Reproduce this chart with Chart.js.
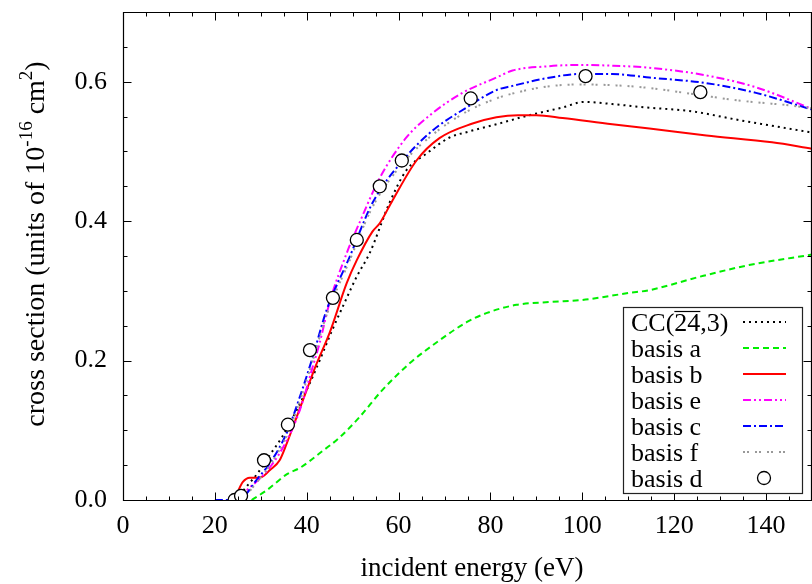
<!DOCTYPE html>
<html>
<head>
<meta charset="utf-8">
<script src="https://cdn.jsdelivr.net/npm/chart.js@4/dist/chart.umd.min.js"></script>
<style>
html,body{margin:0;padding:0;background:#fff;}
#wrap{width:812px;height:584px;position:relative;}
</style>
</head>
<body>
<div id="wrap"><canvas id="c" width="812" height="584"></canvas></div>
<script>
const FONT = '"Liberation Serif", "Times New Roman", serif';

// x tick labels / y tick labels
const xTickValues = [0, 20, 40, 60, 80, 100, 120, 140];
const yTickValues = [0.0, 0.2, 0.4, 0.6];

const seriesNames = ['CC(24,3)', 'basis a', 'basis b', 'basis e', 'basis c', 'basis f', 'basis d'];

// CC(24,3)
const energyCC = [24.6, 27, 29.5, 32, 34.6, 37.5, 40.7, 42.8, 45.5, 48.3, 51, 53.7, 58, 61.7, 66.1, 71.1, 75, 81.3, 88.5, 95.7, 100.4, 106.5, 113.9, 123.3, 134.1, 150];
const sigmaCC  = [0.0, 0.02, 0.04, 0.065, 0.09, 0.125, 0.168, 0.2, 0.243, 0.284, 0.322, 0.354, 0.426, 0.473, 0.497, 0.520, 0.528, 0.539, 0.552, 0.563, 0.571, 0.568, 0.563, 0.558, 0.545, 0.527];

// basis a
const energyA = [28, 31.3, 35.7, 38.5, 42.8, 47.2, 51.5, 56.5, 62.4, 68.9, 74.8, 79.1, 85.7, 92.8, 100, 110.2, 114.6, 125.4, 136.3, 150];
const sigmaA  = [0.0, 0.014, 0.037, 0.046, 0.067, 0.09, 0.119, 0.158, 0.196, 0.229, 0.255, 0.268, 0.280, 0.284, 0.287, 0.297, 0.301, 0.320, 0.337, 0.352];

// basis b
const energyB = [24.6, 25.2, 26.1, 27.6, 29, 30.2, 32, 34.1, 35.7, 37.8, 40, 42, 45, 48.7, 50.9, 54.3, 55.9, 58.7, 63.9, 68.9, 76.1, 81.3, 86, 90, 95.7, 106.5, 114.6, 127, 141.3, 150];
const sigmaB  = [0.005, 0.015, 0.026, 0.032, 0.032, 0.033, 0.043, 0.057, 0.082, 0.119, 0.158, 0.193, 0.24, 0.311, 0.344, 0.385, 0.397, 0.43, 0.487, 0.519, 0.540, 0.549, 0.552, 0.552, 0.548, 0.539, 0.533, 0.523, 0.513, 0.504];

// basis e
const energyE = [25.8, 27, 28.7, 32, 35.7, 38.5, 41.3, 42.8, 45, 48.7, 51.5, 55.9, 61.7, 67.4, 73.9, 81.3, 84.8, 92.2, 99.3, 106.5, 114.6, 127, 137.8, 150];
const sigmaE  = [0.0, 0.014, 0.024, 0.047, 0.086, 0.129, 0.191, 0.225, 0.284, 0.354, 0.398, 0.462, 0.520, 0.555, 0.584, 0.606, 0.616, 0.622, 0.624, 0.623, 0.620, 0.609, 0.592, 0.561];

// basis c
const energyC = [20, 25.5, 27, 29.1, 32, 35.7, 38.5, 41.3, 44.3, 49.3, 54.3, 60.9, 67.4, 74.8, 81.3, 84.8, 92.2, 99.3, 106.5, 114.6, 127, 137.8, 150];
const sigmaC  = [0.0, 0.0, 0.01, 0.029, 0.053, 0.097, 0.148, 0.205, 0.272, 0.348, 0.426, 0.487, 0.530, 0.563, 0.588, 0.594, 0.605, 0.611, 0.611, 0.606, 0.598, 0.584, 0.560];

// basis f
const energyF = [26, 27, 29.1, 32, 35.7, 38.5, 41.3, 44.3, 49.3, 54.3, 60.9, 67.4, 74.8, 81.3, 84.8, 92.2, 99.3, 106.5, 114.6, 123.3, 134.1, 145.2, 150];
const sigmaF  = [0.0, 0.008, 0.025, 0.05, 0.093, 0.142, 0.2, 0.265, 0.343, 0.42, 0.483, 0.524, 0.557, 0.576, 0.583, 0.593, 0.596, 0.595, 0.591, 0.583, 0.573, 0.566, 0.562];

// basis d (points)
const energyD = [24.3, 25.7, 30.7, 35.9, 40.7, 45.7, 50.9, 55.9, 60.7, 75.7, 100.7, 125.7];
const sigmaD  = [0.0, 0.006, 0.057, 0.108, 0.215, 0.290, 0.373, 0.450, 0.487, 0.576, 0.608, 0.585];

const zip = (xs, ys) => xs.map((x, i) => ({x: x, y: ys[i]}));

function lineDS(label, xs, ys, color, dash, order) {
  return {
    label, data: zip(xs, ys), borderColor: color, backgroundColor: color,
    borderWidth: 2, borderDash: dash, pointRadius: 0, fill: false,
    cubicInterpolationMode: 'monotone', order: order, borderCapStyle: 'butt'
  };
}

const datasets = [
  lineDS(seriesNames[0], energyCC, sigmaCC, '#000000', [2, 4], 7),
  lineDS(seriesNames[1], energyA, sigmaA, '#00ee00', [6, 4], 6),
  lineDS(seriesNames[2], energyB, sigmaB, '#ff0000', [], 5),
  lineDS(seriesNames[3], energyE, sigmaE, '#ff00ff', [8, 3, 2, 3, 2, 3], 4),
  lineDS(seriesNames[4], energyC, sigmaC, '#0000ff', [8, 3, 2, 3], 3),
  lineDS(seriesNames[5], energyF, sigmaF, '#999999', [2, 2, 2, 6], 2),
  {
    label: seriesNames[6], data: zip(energyD, sigmaD), showLine: false,
    pointRadius: 6.5, pointStyle: 'circle', pointBorderWidth: 1.3,
    borderColor: '#000', backgroundColor: '#fff', pointBackgroundColor: '#fff', order: 1
  }
];

const zeroPad = s => { s.paddingTop = 0; s.paddingBottom = 0; s.paddingLeft = 0; s.paddingRight = 0; };

const framePlugin = {
  id: 'frame',
  afterDatasetsDraw(chart) {
    const {ctx, chartArea: a, scales: {x, y}} = chart;
    ctx.save();
    // frame
    ctx.strokeStyle = '#000';
    ctx.lineWidth = 1.2;
    const L = Math.round(a.left) + 0.5, R = Math.round(a.right) - 0.5;
    const T = Math.round(a.top) + 0.5, B = Math.round(a.bottom) + 0.5;
    ctx.beginPath();
    ctx.rect(L, T, R - L, B - T);
    ctx.stroke();
    // ticks (inward, mirrored)
    ctx.lineWidth = 1;
    ctx.beginPath();
    for (let v = 0; v <= 150 + 1e-9; v += 5) {
      const px = Math.round(x.getPixelForValue(v)) + 0.5;
      const len = (Math.abs(v % 20) < 1e-9) ? 8 : 4;
      ctx.moveTo(px, B); ctx.lineTo(px, B - len);
      ctx.moveTo(px, T); ctx.lineTo(px, T + len);
    }
    for (let k = 0; k <= 14; k++) {
      const v = k * 0.05;
      const py = Math.round(y.getPixelForValue(v)) + 0.5;
      const len = (k % 4 === 0) ? 8 : 4;
      ctx.moveTo(L, py); ctx.lineTo(L + len, py);
      ctx.moveTo(R, py); ctx.lineTo(R - len, py);
    }
    ctx.stroke();

    // axis titles
    ctx.fillStyle = '#000';
    ctx.font = '27px ' + FONT;
    ctx.textAlign = 'center';
    ctx.textBaseline = 'alphabetic';
    ctx.fillText('incident energy (eV)', 472, 576);

    // y title with superscripts
    const parts = [
      ['cross section (units of 10', false],
      ['-16', true],
      [' cm', false],
      ['2', true],
      [')', false]
    ];
    const fN = '28px ' + FONT, fS = '19px ' + FONT;
    let total = 0;
    parts.forEach(p => { ctx.font = p[1] ? fS : fN; total += ctx.measureText(p[0]).width; });
    ctx.translate(44, 244);
    ctx.rotate(-Math.PI / 2);
    ctx.textAlign = 'left';
    let cx = -total / 2;
    parts.forEach(p => {
      ctx.font = p[1] ? fS : fN;
      ctx.fillText(p[0], cx, p[1] ? -12 : 0);
      cx += ctx.measureText(p[0]).width;
    });
    ctx.restore();

    // legend
    ctx.save();
    const bx = 623.5, by = 307.5, bw = 179, bh = 186;
    ctx.fillStyle = '#fff';
    ctx.fillRect(bx, by, bw, bh);
    ctx.strokeStyle = '#222';
    ctx.lineWidth = 1.2;
    ctx.strokeRect(bx, by, bw, bh);
    ctx.font = '26px ' + FONT;
    ctx.fillStyle = '#000';
    ctx.textAlign = 'left';
    ctx.textBaseline = 'alphabetic';
    const tx = 631, base0 = 331, step = 26;
    chart.data.datasets.forEach((ds, i) => {
      const base = base0 + i * step;
      if (i === 0) {
        const w1 = ctx.measureText('CC(').width;
        const w2 = ctx.measureText('24').width;
        ctx.fillText('CC(24,3)', tx, base);
        ctx.lineWidth = 1.2;
        ctx.strokeStyle = '#000';
        ctx.beginPath();
        ctx.moveTo(tx + w1, base - 19.5);
        ctx.lineTo(tx + w1 + w2, base - 19.5);
        ctx.stroke();
      } else {
        ctx.fillText(ds.label, tx, base);
      }
      const sy = base - 9;
      if (ds.showLine === false) {
        ctx.beginPath();
        ctx.lineWidth = 1.3;
        ctx.strokeStyle = '#000';
        ctx.arc(764, sy, 6.5, 0, Math.PI * 2);
        ctx.stroke();
      } else {
        ctx.beginPath();
        ctx.setLineDash(ds.borderDash || []);
        ctx.lineWidth = ds.borderWidth;
        ctx.strokeStyle = ds.borderColor;
        ctx.moveTo(743, sy);
        ctx.lineTo(786, sy);
        ctx.stroke();
        ctx.setLineDash([]);
      }
    });
    ctx.restore();
  }
};

new Chart(document.getElementById('c'), {
  type: 'line',
  data: {datasets},
  options: {
    responsive: false,
    animation: false,
    devicePixelRatio: 1,
    layout: {autoPadding: false, padding: {top: 12, right: -1, left: 0, bottom: 0}},
    plugins: {legend: {display: false}, tooltip: {enabled: false}},
    scales: {
      x: {
        type: 'linear', min: 0, max: 150,
        grid: {display: false, drawTicks: false},
        border: {display: false},
        ticks: {stepSize: 20, color: '#000', font: {family: FONT, size: 26}, padding: 11, maxRotation: 0, autoSkip: false},
        afterBuildTicks: s => { s.ticks = xTickValues.map(v => ({value: v})); },
        afterFit: s => { s.height = 84; zeroPad(s); }
      },
      y: {
        type: 'linear', min: 0, max: 0.7,
        grid: {display: false, drawTicks: false},
        border: {display: false},
        ticks: {stepSize: 0.2, color: '#000', font: {family: FONT, size: 26}, padding: 16, callback: v => Number(v).toFixed(1)},
        afterBuildTicks: s => { s.ticks = yTickValues.map(v => ({value: v})); },
        afterFit: s => { s.width = 123; zeroPad(s); }
      }
    }
  },
  plugins: [framePlugin]
});
</script>
</body>
</html>
